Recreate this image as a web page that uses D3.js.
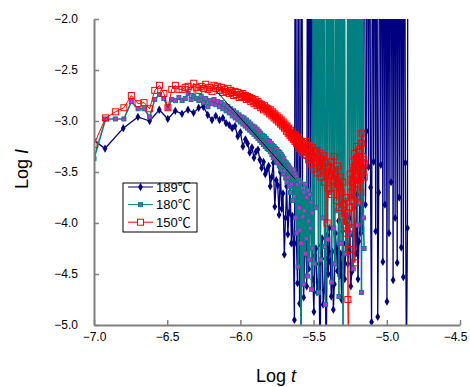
<!DOCTYPE html>
<html>
<head>
<meta charset="utf-8">
<script src="https://cdn.jsdelivr.net/npm/d3@7"></script>
<style>
  body { margin: 0; background: #fff; }
  svg { display: block; font-family: "Liberation Sans", Arial, "Noto Sans CJK JP", sans-serif; }
</style>
</head>
<body>
<svg id="chart" width="470" height="387"></svg>
<script>
// tick values
const xTicks = [-7.0, -6.5, -6.0, -5.5, -5.0, -4.5];
const yTicks = [-5.0, -4.5, -4.0, -3.5, -3.0, -2.5, -2.0];
const seriesNames = ["189℃", "180℃", "150℃"];

// off-scale readings (drawn as spikes leaving the plot)
const HI = 1.0;
const LO = -5.4;

// [log t, log I]
const data189 = [
  [-7.000,-3.19],[-6.925,-3.27],[-6.800,-3.07],[-6.700,-2.96],[-6.620,-3.00],[-6.554,-2.89],[-6.496,-2.98],
  [-6.445,-2.90],[-6.399,-2.93],[-6.358,-2.89],[-6.320,-2.92],[-6.285,-2.87],[-6.253,-2.86],[-6.223,-2.94],
  [-6.194,-2.99],[-6.168,-2.95],[-6.143,-2.99],[-6.120,-2.97],[-6.098,-3.02],[-6.076,-3.04],[-6.056,-3.07],
  [-6.037,-3.05],[-6.018,-3.15],[-6.000,-3.11],[-5.983,-3.25],[-5.966,-3.18],[-5.951,-3.22],[-5.936,-3.31],
  [-5.921,-3.26],[-5.907,-3.36],[-5.893,-3.30],[-5.880,-3.28],[-5.867,-3.38],[-5.855,-3.46],[-5.842,-3.40],
  [-5.830,-3.52],[-5.819,-3.48],[-5.807,-3.44],[-5.796,-3.64],[-5.786,-3.55],[-5.775,-3.41],[-5.765,-3.84],
  [-5.755,-3.58],[-5.745,-3.63],[-5.736,-3.92],[-5.727,-3.50],[-5.718,-3.86],[-5.709,-3.71],[-5.700,-4.31],
  [-5.692,-3.95],[-5.684,-3.64],[-5.676,-4.11],[-5.668,-3.90],[-5.660,-3.58],[-5.652,-4.20],[-5.645,-3.93],
  [-5.638,-4.20],[-5.631,-4.95],[-5.624,HI],[-5.617,-4.20],[-5.610,-4.59],[-5.603,HI],[-5.596,-4.79],
  [-5.589,-4.02],[-5.582,HI],[-5.575,-4.19],[-5.568,-4.73],[-5.561,-4.30],[-5.554,-3.90],[-5.547,-4.62],
  [-5.540,HI],[-5.533,-4.45],[-5.526,HI],[-5.519,-4.07],[-5.512,HI],[-5.505,-4.55],[-5.498,-4.87],
  [-5.491,-4.32],[-5.484,-4.25],[-5.477,-4.68],[-5.470,-4.58],[-5.463,-4.40],[-5.456,LO],[-5.449,-4.22],
  [-5.442,-4.15],[-5.435,-4.80],[-5.428,-4.66],[-5.421,-4.35],[-5.414,LO],[-5.407,-4.12],[-5.400,-4.50],
  [-5.393,-4.05],[-5.386,-4.38],[-5.379,-4.72],[-5.372,-4.28],[-5.365,-4.85],[-5.358,-4.60],[-5.351,-4.10],
  [-5.344,-4.25],[-5.337,-4.47],[-5.330,-3.98],[-5.323,-4.52],[-5.316,-4.30],[-5.309,-4.75],[-5.302,-4.08],
  [-5.295,-4.20],[-5.288,-4.55],[-5.274,-4.00],[-5.267,-4.40],[-5.260,-4.28],[-5.253,-3.95],[-5.246,-4.62],
  [-5.239,-4.48],[-5.232,-4.12],[-5.225,-3.85],[-5.218,-4.02],[-5.211,-4.30],[-5.204,-3.72],[-5.197,-4.55],
  [-5.190,-4.18],[-5.183,-3.60],[-5.176,-4.10],[-5.169,-4.05],[-5.162,-3.55],[-5.155,HI],[-5.146,-3.82],
  [-5.139,-3.10],[-5.132,HI],[-5.125,-3.45],[-5.118,HI],[-5.111,-3.65],[-5.104,-4.97],[-5.097,HI],
  [-5.090,-3.40],[-5.083,HI],[-5.076,-4.08],[-5.069,HI],[-5.062,-4.92],[-5.055,-3.70],[-5.048,HI],
  [-5.041,-3.43],[-5.034,HI],[-5.027,-4.38],[-5.020,HI],[-5.013,-3.82],[-5.006,HI],[-4.999,-4.77],
  [-4.992,HI],[-4.985,-4.10],[-4.978,HI],[-4.971,-3.60],[-4.964,HI],[-4.957,-4.56],[-4.950,HI],
  [-4.943,-3.95],[-4.936,HI],[-4.929,-4.39],[-4.922,HI],[-4.915,-3.75],[-4.908,HI],[-4.901,-4.24],
  [-4.894,HI],[-4.887,-4.53],[-4.880,HI],[-4.873,-3.41],[-4.866,LO],[-4.859,-4.05],[-4.855,HI]
];

const data180 = [
  [-7.000,-3.37],[-6.921,-2.98],[-6.854,-2.98],[-6.796,-2.98],[-6.745,-2.81],[-6.699,-2.88],[-6.658,-2.88],
  [-6.620,-2.96],[-6.585,-2.79],[-6.553,-2.74],[-6.523,-2.78],[-6.495,-2.87],[-6.469,-2.79],[-6.444,-2.80],
  [-6.420,-2.77],[-6.398,-2.80],[-6.377,-2.78],[-6.357,-2.73],[-6.337,-2.79],[-6.319,-2.76],[-6.301,-2.78],
  [-6.284,-2.80],[-6.268,-2.76],[-6.252,-2.82],[-6.237,-2.78],[-6.222,-2.86],[-6.208,-2.80],[-6.194,-2.83],
  [-6.180,-2.79],[-6.168,-2.84],[-6.155,-2.81],[-6.143,-2.86],[-6.131,-2.82],[-6.120,-2.88],[-6.108,-2.84],
  [-6.097,-2.90],[-6.086,-2.86],[-6.076,-2.92],[-6.066,-2.88],[-6.056,-2.95],[-6.046,-2.90],[-6.036,-2.97],
  [-6.027,-2.92],[-6.018,-2.99],[-6.009,-2.94],[-6.000,-3.01],[-5.991,-2.96],[-5.983,-3.03],[-5.975,-2.97],
  [-5.967,-3.05],[-5.959,-2.99],[-5.951,-3.07],[-5.943,-3.01],[-5.936,-3.09],[-5.929,-3.03],[-5.921,-3.11],
  [-5.914,-3.05],[-5.907,-3.13],[-5.900,-3.06],[-5.893,-3.15],[-5.886,-3.08],[-5.880,-3.17],[-5.873,-3.10],
  [-5.867,-3.19],[-5.861,-3.12],[-5.854,-3.21],[-5.848,-3.14],[-5.842,-3.23],[-5.836,-3.15],[-5.830,-3.25],
  [-5.824,-3.17],[-5.818,-3.27],[-5.813,-3.19],[-5.807,-3.28],[-5.801,-3.20],[-5.796,-3.30],[-5.790,-3.22],
  [-5.785,-3.33],[-5.780,-3.24],[-5.775,-3.36],[-5.770,-3.25],[-5.765,-3.34],[-5.760,-3.27],[-5.755,-3.39],
  [-5.750,-3.28],[-5.745,-3.41],[-5.740,-3.30],[-5.735,-3.44],[-5.730,-3.31],[-5.726,-3.46],[-5.721,-3.33],
  [-5.717,-3.48],[-5.712,-3.35],[-5.708,-3.52],[-5.703,-3.37],[-5.699,-3.49],[-5.695,-3.40],[-5.690,-3.56],
  [-5.686,-3.41],[-5.682,-3.60],[-5.678,-3.43],[-5.674,-3.55],[-5.670,-3.44],[-5.666,-3.64],[-5.662,-3.46],
  [-5.658,-3.70],[-5.654,-3.48],[-5.650,-3.62],[-5.646,-3.50],[-5.642,-3.78],[-5.638,-3.52],[-5.634,-3.48],
  [-5.630,-3.74],[-5.626,-3.52],[-5.622,-3.95],[-5.618,-3.55],[-5.614,-4.10],[-5.610,-3.62],[-5.606,-4.43],
  [-5.602,-3.58],[-5.598,-3.85],[-5.594,-4.07],[-5.590,-3.60],[-5.586,LO],[-5.582,-4.20],[-5.578,-3.66],
  [-5.574,-3.94],[-5.570,-4.60],[-5.566,-3.70],[-5.562,-3.88],[-5.558,-4.30],[-5.554,-3.62],[-5.550,-4.15],
  [-5.546,-3.75],[-5.542,-4.52],[-5.538,-3.68],[-5.534,-3.98],[-5.530,-4.36],[-5.526,-3.72],[-5.522,-4.05],
  [-5.518,-3.80],[-5.514,-4.65],[-5.510,-3.90],[-5.506,-4.25],[-5.502,HI],[-5.495,-4.40],[-5.488,HI],
  [-5.481,-3.85],[-5.474,HI],[-5.467,-4.68],[-5.460,HI],[-5.453,-4.36],[-5.446,HI],[-5.439,-3.95],
  [-5.432,HI],[-5.425,-4.23],[-5.418,-4.80],[-5.411,HI],[-5.404,-4.16],[-5.397,HI],[-5.390,-3.70],
  [-5.383,HI],[-5.376,-4.58],[-5.369,HI],[-5.362,-4.05],[-5.355,-4.40],[-5.348,HI],[-5.341,-3.88],
  [-5.334,HI],[-5.327,-4.72],[-5.320,HI],[-5.313,-4.20],[-5.306,HI],[-5.299,LO],[-5.292,HI],
  [-5.285,-3.78],[-5.278,-4.30],[-5.271,-3.92],[-5.264,HI],[-5.257,-4.10],[-5.250,HI],[-5.243,-3.74],
  [-5.236,HI],[-5.229,-4.45],[-5.222,HI],[-5.215,-3.66],[-5.208,HI],[-5.201,-4.02],[-5.194,HI],
  [-5.187,-3.80],[-5.180,HI],[-5.173,-4.68],[-5.166,HI],[-5.160,-3.95],[-5.155,-4.25]
];

const data150 = [
  [-7.000,-3.23],[-6.921,-2.97],[-6.854,-2.91],[-6.796,-2.87],[-6.745,-2.75],[-6.699,-2.83],[-6.658,-2.82],
  [-6.620,-2.88],[-6.585,-2.70],[-6.553,-2.65],[-6.523,-2.73],[-6.495,-2.87],[-6.469,-2.69],[-6.444,-2.65],
  [-6.420,-2.69],[-6.398,-2.69],[-6.377,-2.67],[-6.357,-2.66],[-6.337,-2.70],[-6.319,-2.63],[-6.301,-2.67],
  [-6.284,-2.70],[-6.268,-2.66],[-6.252,-2.68],[-6.237,-2.64],[-6.222,-2.69],[-6.208,-2.67],[-6.194,-2.71],
  [-6.180,-2.65],[-6.168,-2.68],[-6.155,-2.66],[-6.143,-2.70],[-6.131,-2.67],[-6.120,-2.72],[-6.108,-2.69],
  [-6.097,-2.71],[-6.086,-2.68],[-6.076,-2.73],[-6.066,-2.70],[-6.056,-2.72],[-6.046,-2.75],[-6.036,-2.71],
  [-6.027,-2.74],[-6.018,-2.72],[-6.009,-2.77],[-6.000,-2.74],[-5.991,-2.76],[-5.983,-2.73],[-5.975,-2.77],
  [-5.967,-2.75],[-5.959,-2.79],[-5.951,-2.76],[-5.943,-2.78],[-5.936,-2.77],[-5.929,-2.81],[-5.921,-2.78],
  [-5.914,-2.80],[-5.907,-2.83],[-5.900,-2.79],[-5.893,-2.82],[-5.886,-2.85],[-5.880,-2.81],[-5.873,-2.84],
  [-5.867,-2.83],[-5.861,-2.87],[-5.854,-2.84],[-5.848,-2.86],[-5.842,-2.89],[-5.836,-2.85],[-5.830,-2.88],
  [-5.824,-2.87],[-5.818,-2.91],[-5.813,-2.88],[-5.807,-2.90],[-5.801,-2.93],[-5.796,-2.89],[-5.790,-2.92],
  [-5.785,-2.95],[-5.780,-2.91],[-5.775,-2.94],[-5.770,-2.97],[-5.765,-2.93],[-5.760,-2.96],[-5.755,-2.99],
  [-5.750,-2.95],[-5.745,-2.98],[-5.740,-3.01],[-5.735,-2.97],[-5.730,-3.00],[-5.726,-3.03],[-5.721,-2.99],
  [-5.717,-3.02],[-5.712,-3.05],[-5.708,-3.01],[-5.703,-3.04],[-5.699,-3.07],[-5.695,-3.03],[-5.690,-3.06],
  [-5.686,-3.10],[-5.682,-3.05],[-5.678,-3.08],[-5.674,-3.12],[-5.670,-3.07],[-5.666,-3.11],[-5.662,-3.14],
  [-5.658,-3.09],[-5.654,-3.13],[-5.650,-3.16],[-5.646,-3.11],[-5.642,-3.15],[-5.638,-3.18],[-5.634,-3.13],
  [-5.630,-3.17],[-5.627,-3.20],[-5.623,-3.14],[-5.620,-3.19],[-5.616,-3.22],[-5.612,-3.16],[-5.609,-3.21],
  [-5.605,-3.25],[-5.602,-3.18],[-5.598,-3.23],[-5.595,-3.27],[-5.592,-3.19],[-5.588,-3.24],[-5.585,-3.29],
  [-5.582,-3.21],[-5.578,-3.26],[-5.575,-3.31],[-5.572,-3.22],[-5.569,-3.28],[-5.565,-3.33],[-5.562,-3.24],
  [-5.559,-3.30],[-5.552,-3.20],[-5.546,-3.34],[-5.540,-3.24],[-5.534,-3.38],[-5.528,-3.27],[-5.522,-3.31],
  [-5.516,-3.42],[-5.510,-3.26],[-5.504,-3.36],[-5.498,-3.47],[-5.492,-3.30],[-5.486,-3.40],[-5.480,-3.29],
  [-5.474,-3.51],[-5.468,-3.35],[-5.462,-3.44],[-5.456,-3.32],[-5.450,-3.55],[-5.444,-3.38],[-5.438,-3.47],
  [-5.432,-3.34],[-5.426,-3.60],[-5.420,-3.41],[-5.414,-3.50],[-5.408,-4.00],[-5.402,-3.66],[-5.396,-3.45],
  [-5.390,-3.53],[-5.384,-3.40],[-5.378,-3.72],[-5.372,-3.48],[-5.366,-3.58],[-5.360,-3.35],[-5.354,-3.65],
  [-5.348,-3.52],[-5.342,-3.78],[-5.336,-3.44],[-5.330,-3.62],[-5.324,-3.85],[-5.318,-3.55],[-5.312,-3.70],
  [-5.306,-3.94],[-5.300,-3.60],[-5.294,-3.82],[-5.288,-4.02],[-5.282,-3.75],[-5.276,-4.10],[-5.270,-3.90],
  [-5.266,-4.75],[-5.262,LO],[-5.258,-4.26],[-5.254,-3.85],[-5.250,-3.52],[-5.246,-3.70],[-5.242,-4.05],
  [-5.238,-3.60],[-5.234,-3.40],[-5.230,-3.78],[-5.226,-3.48],[-5.222,-3.32],[-5.218,-4.39],[-5.214,-3.55],
  [-5.210,-3.38],[-5.206,-3.25],[-5.202,-3.62],[-5.198,-3.80],[-5.194,-3.45],[-5.190,-3.30],[-5.186,-3.58],
  [-5.182,-3.40],[-5.178,-3.70],[-5.174,-3.22],[-5.170,-3.12],[-5.166,-3.35],[-5.162,-3.48],[-5.158,-3.38],
  [-5.154,-3.55],[-5.150,-3.42]
];

// straight fit drawn across the decay
const fitLine = [[-6.162,-2.71],[-5.627,-3.57]];

const svg = d3.select("#chart");
const margin = { top: 19, right: 10, bottom: 62, left: 94 };
const W = 470, H = 387;

const x = d3.scaleLinear().domain([-7.0, -4.5]).range([margin.left, W - margin.right]);
const y = d3.scaleLinear().domain([-5.0, -2.0]).range([H - margin.bottom, margin.top]);

svg.append("rect").attr("width", W).attr("height", H).attr("fill", "#fff");

svg.append("clipPath").attr("id", "plot-clip")
  .append("rect")
  .attr("x", x(-7.0)).attr("y", y(-2.0))
  .attr("width", x(-4.5) - x(-7.0)).attr("height", y(-5.0) - y(-2.0));

const plot = svg.append("g").attr("clip-path", "url(#plot-clip)");

const line = d3.line().x(d => x(d[0])).y(d => y(d[1]));
const onScale = d => d[1] >= -5.02 && d[1] <= -1.98;

// 189℃ - navy diamonds
plot.append("path").datum(data189)
  .attr("d", line).attr("fill", "none").attr("stroke", "#000080").attr("stroke-width", 1.3);
plot.append("g").selectAll("path")
  .data(data189.filter(onScale)).enter().append("path")
  .attr("transform", d => `translate(${x(d[0])},${y(d[1])})`)
  .attr("d", d3.symbol(d3.symbolDiamond, 20))
  .attr("fill", "#000080");

// 180℃ - teal squares, magenta centre
plot.append("path").datum(data180)
  .attr("d", line).attr("fill", "none").attr("stroke", "#008080").attr("stroke-width", 1.6);
plot.append("g").selectAll("rect")
  .data(data180.filter(onScale)).enter().append("rect")
  .attr("x", d => x(d[0]) - 2).attr("y", d => y(d[1]) - 2)
  .attr("width", 4).attr("height", 4)
  .attr("fill", "#e020e0").attr("stroke", "#008080").attr("stroke-width", 1);

// 150℃ - red open squares
plot.append("path").datum(data150)
  .attr("d", line).attr("fill", "none").attr("stroke", "#ff0000").attr("stroke-width", 1);
plot.append("g").selectAll("rect")
  .data(data150.filter(onScale)).enter().append("rect")
  .attr("x", d => x(d[0]) - 3).attr("y", d => y(d[1]) - 3)
  .attr("width", 6).attr("height", 6)
  .attr("fill", "none").attr("stroke", "#ff0000").attr("stroke-width", 1);

// fit line
plot.append("path").datum(fitLine)
  .attr("d", line).attr("fill", "none").attr("stroke", "#000").attr("stroke-width", 1);

// axes
const fmt = d3.format(".1f");
const xAxis = svg.append("g")
  .attr("transform", `translate(0,${y(-5.0)})`)
  .call(d3.axisBottom(x).tickValues(xTicks).tickFormat(fmt).tickSize(-5).tickSizeOuter(0).tickPadding(7));
const yAxis = svg.append("g")
  .attr("transform", `translate(${x(-7.0)},0)`)
  .call(d3.axisLeft(y).tickValues(yTicks).tickFormat(fmt).tickSize(-5).tickSizeOuter(0).tickPadding(16));

[xAxis, yAxis].forEach(a => {
  a.select(".domain").attr("stroke", "#808080").attr("stroke-width", 2);
  a.selectAll(".tick line").attr("stroke", "#808080").attr("stroke-width", 1.5);
  a.selectAll(".tick text").attr("font-size", "12px").attr("fill", "#000")
    .attr("font-family", "'Liberation Sans', Arial, sans-serif");
});
// keep the last x label inside the picture
xAxis.selectAll(".tick text").filter(d => d === -4.5).attr("dx", -5);

// axis titles
const xTitle = svg.append("text")
  .attr("x", 276).attr("y", 382)
  .attr("text-anchor", "middle").attr("font-size", "18px");
xTitle.append("tspan").text("Log ");
xTitle.append("tspan").attr("font-style", "italic").text("t");

const yTitle = svg.append("text")
  .attr("transform", "translate(28,169) rotate(-90)")
  .attr("text-anchor", "middle").attr("font-size", "18px");
yTitle.append("tspan").text("Log ");
yTitle.append("tspan").attr("font-style", "italic").text("I");

// legend
const legend = svg.append("g").attr("transform", "translate(123,183)");
legend.append("rect")
  .attr("width", 74).attr("height", 49)
  .attr("fill", "#fff").attr("stroke", "#000").attr("stroke-width", 1);

const legendColors = ["#000080", "#008080", "#ff0000"];
seriesNames.forEach((name, i) => {
  const ly = 4 + i * 17.6;
  const g = legend.append("g").attr("transform", `translate(0,${ly})`);
  g.append("line").attr("x1", 5).attr("x2", 30).attr("y1", 0).attr("y2", 0)
    .attr("stroke", legendColors[i]).attr("stroke-width", 1);
  if (i === 0) {
    g.append("path").attr("transform", "translate(17.5,0)")
      .attr("d", d3.symbol(d3.symbolDiamond, 20)).attr("fill", "#000080");
  } else if (i === 1) {
    g.append("rect").attr("x", 15.5).attr("y", -2).attr("width", 4).attr("height", 4)
      .attr("fill", "#e020e0").attr("stroke", "#008080");
  } else {
    g.append("rect").attr("x", 14.5).attr("y", -3).attr("width", 6).attr("height", 6)
      .attr("fill", "#fff").attr("stroke", "#ff0000");
  }
  g.append("text").attr("x", 33).attr("y", 4.5)
    .attr("font-size", "13px").text(name);
});
</script>
</body>
</html>
